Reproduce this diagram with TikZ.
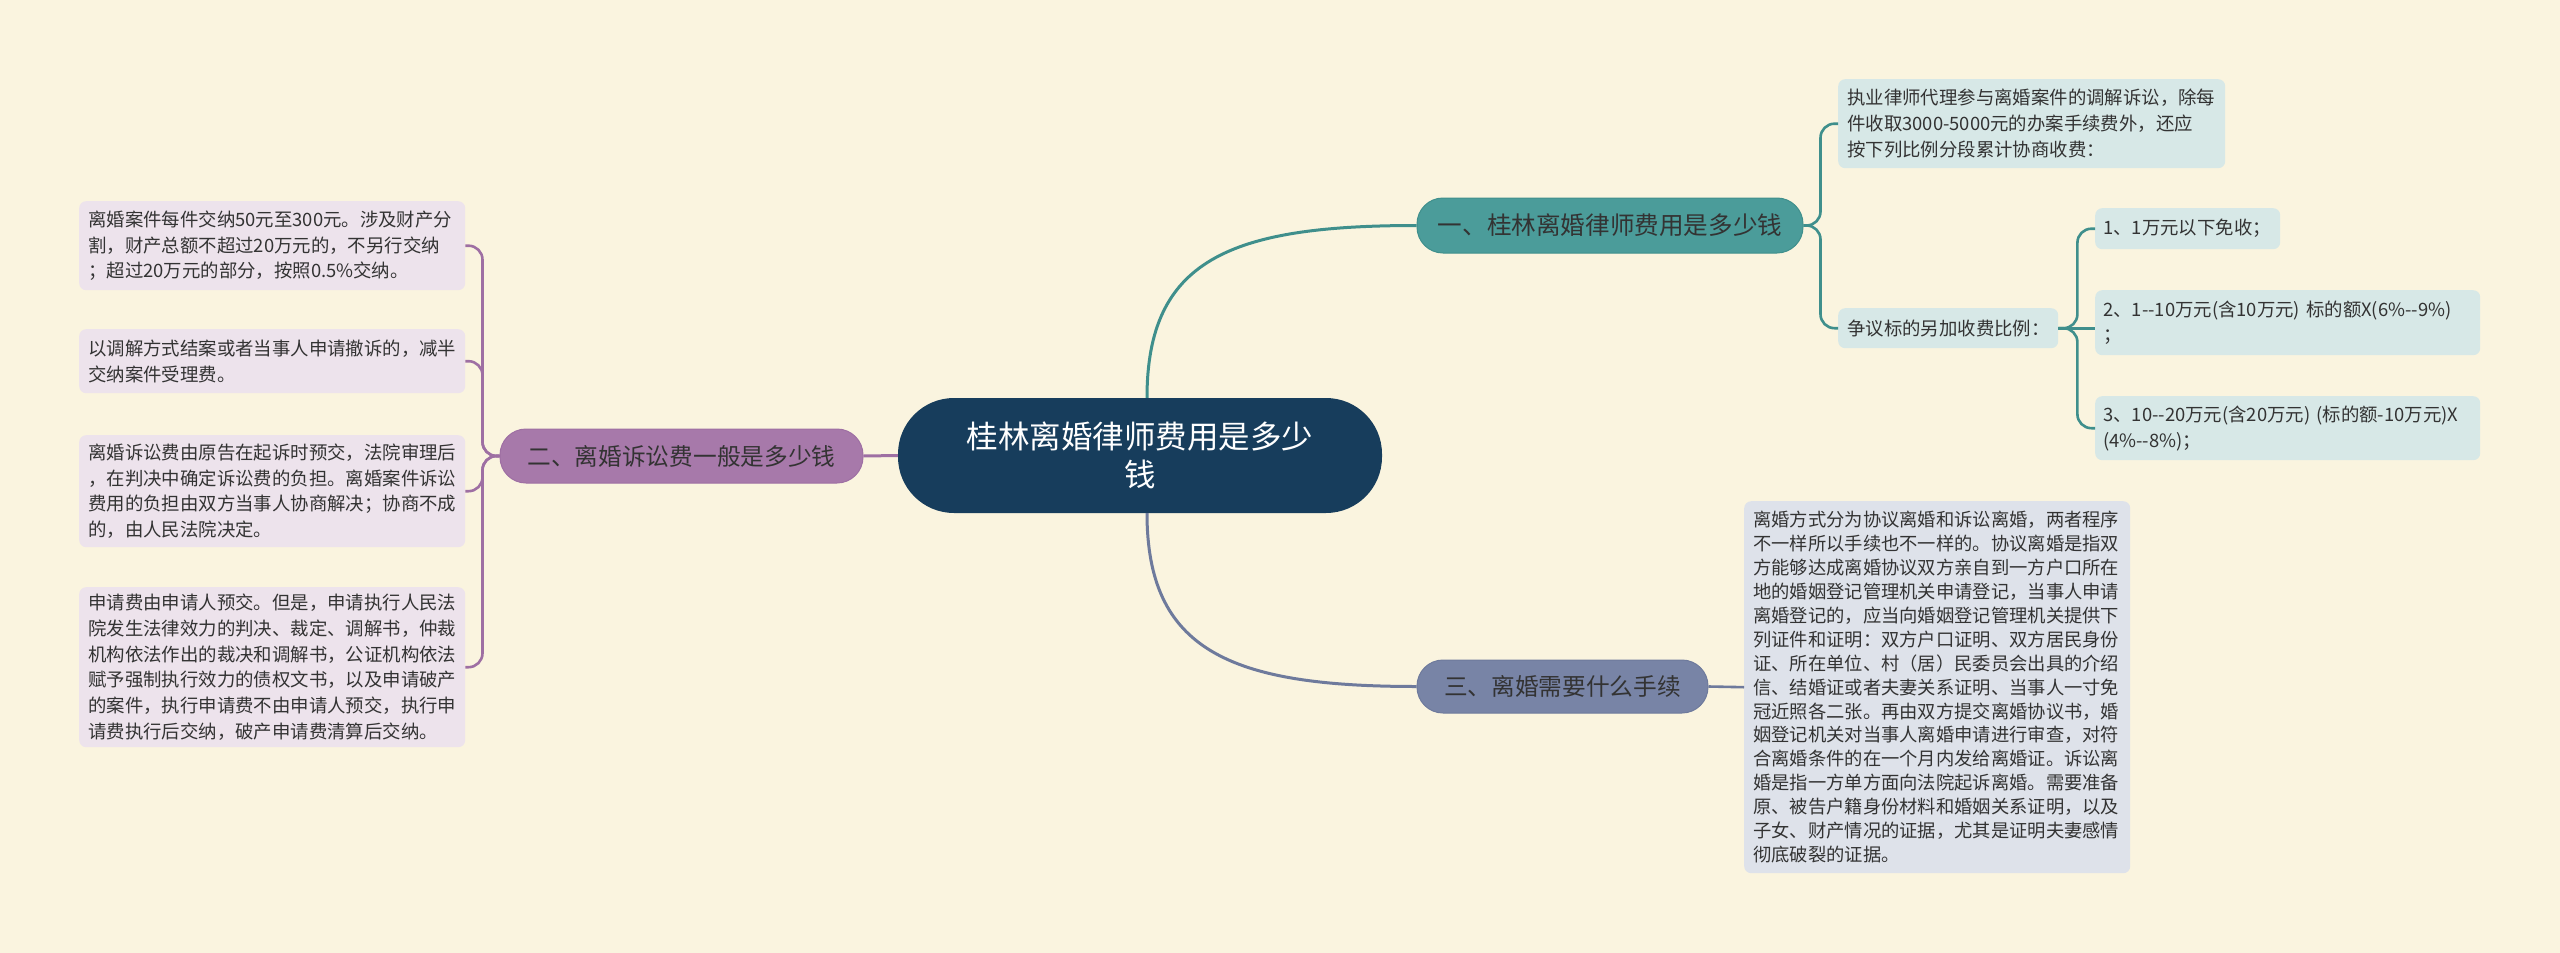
\documentclass[tikz,border=0pt]{standalone}
\usepackage{fontspec}
\setmainfont{Noto Sans CJK SC}
\usetikzlibrary{calc}
\definecolor{bg}{HTML}{FAF4DF}
\definecolor{centerc}{HTML}{173D5C}
\definecolor{tealf}{HTML}{4B9C9A}
\definecolor{teall}{HTML}{3F8F8C}
\definecolor{tealleaf}{HTML}{D7E8E7}
\definecolor{purf}{HTML}{A779AA}
\definecolor{purl}{HTML}{9E6FA3}
\definecolor{purleaf}{HTML}{EDE3EC}
\definecolor{slatef}{HTML}{7884A6}
\definecolor{slatel}{HTML}{6E7A9C}
\definecolor{slateleaf}{HTML}{DEE2EA}
\definecolor{txt}{HTML}{333333}
\def\dd{-\kern0pt-}
\tikzset{
  leafbase/.style={anchor=north west, align=left, inner xsep=9pt, inner ysep=5pt,
    rounded corners=7pt, text=txt, font=\fontsize{18.4}{25.8}\selectfont},
  leafT/.style={leafbase, fill=tealleaf},
  leafP/.style={leafbase, fill=purleaf},
  leafS/.style={leafbase, fill=slateleaf, font=\fontsize{18.3}{23.9}\selectfont},
  branchbase/.style={inner sep=0pt, rounded corners=26pt, text=txt,
    font=\fontsize{24.6}{30}\selectfont},
  branchT/.style={branchbase, fill=tealf, draw=teall, line width=1pt},
  branchP/.style={branchbase, fill=purf, draw=purl, line width=1pt, font=\fontsize{23.7}{28}\selectfont},
  branchS/.style={branchbase, fill=slatef, draw=slatel, line width=1pt, font=\fontsize{23.7}{28}\selectfont},
  centernode/.style={inner sep=0pt, rounded corners=56pt, fill=centerc, text=white,
    align=center, font=\fontsize{31.5}{38}\selectfont},
  lineT/.style={draw=teall, line width=2.6pt},
  lineP/.style={draw=purl, line width=2.6pt},
  lineS/.style={draw=slatel, line width=2.6pt},
  brk/.style={rounded corners=14pt}
}
\begin{document}
\begin{tikzpicture}[x=1pt,y=-1pt]
\useasboundingbox (0,0) rectangle (2560,953);
\fill[bg] (0,0) rectangle (2560,953);

% central
\node[centernode, minimum width=484pt, minimum height=115pt] (c) at (1140,455.5)
  {桂林离婚律师费用是多少\\钱};

% branches
\node[branchT, minimum width=386pt, minimum height=55pt] (b1) at (1610,225.5) {一、桂林离婚律师费用是多少钱};
\node[branchP, minimum width=363pt, minimum height=54pt] (b2) at (681.5,456) {二、离婚诉讼费一般是多少钱};
\node[branchS, minimum width=291pt, minimum height=53pt] (b3) at (1562.5,686.5) {三、离婚需要什么手续};

% branch 1 leaves
\node[leafT, text width=369pt, minimum height=89pt] (l1a) at (1838,79)
  {执业律师代理参与离婚案件的调解诉讼，除每\\件收取3000-5000元的办案手续费外，还应\\按下列比例分段累计协商收费：};
\node[leafT, text width=202pt, minimum height=40pt] (l1b) at (1838,308)
  {争议标的另加收费比例：};
\node[leafT, inner xsep=8pt, text width=169pt, minimum height=41pt] (s1) at (2095,208)
  {1、1万元以下免收；};
\node[leafT, inner xsep=8pt, text width=369pt, minimum height=65pt] (s2) at (2095,290)
  {2、1\dd10万元(含10万元) 标的额X(6\%\dd9\%)\\；};
\node[leafT, inner xsep=8pt, text width=369pt, minimum height=64pt] (s3) at (2095,396)
  {3、10\dd20万元(含20万元) (标的额-10万元)X\\(4\%\dd8\%)；};

% branch 2 leaves
\node[leafP, text width=368pt, minimum height=89pt] (l2a) at (79,201)
  {离婚案件每件交纳50元至300元。涉及财产分\\割，财产总额不超过20万元的，不另行交纳\\；超过20万元的部分，按照0.5\%交纳。};
\node[leafP, text width=368pt, minimum height=64pt] (l2b) at (79,329)
  {以调解方式结案或者当事人申请撤诉的，减半\\交纳案件受理费。};
\node[leafP, text width=368pt, minimum height=112pt] (l2c) at (79,435)
  {离婚诉讼费由原告在起诉时预交，法院审理后\\，在判决中确定诉讼费的负担。离婚案件诉讼\\费用的负担由双方当事人协商解决；协商不成\\的，由人民法院决定。};
\node[leafP, text width=368pt, minimum height=160pt] (l2d) at (79,587)
  {申请费由申请人预交。但是，申请执行人民法\\院发生法律效力的判决、裁定、调解书，仲裁\\机构依法作出的裁决和调解书，公证机构依法\\赋予强制执行效力的债权文书，以及申请破产\\的案件，执行申请费不由申请人预交，执行申\\请费执行后交纳，破产申请费清算后交纳。};

% branch 3 leaf
\node[leafS, text width=368pt, minimum height=372pt] (l3) at (1744,501)
  {离婚方式分为协议离婚和诉讼离婚，两者程序\\不一样所以手续也不一样的。协议离婚是指双\\方能够达成离婚协议双方亲自到一方户口所在\\地的婚姻登记管理机关申请登记，当事人申请\\离婚登记的，应当向婚姻登记管理机关提供下\\列证件和证明：双方户口证明、双方居民身份\\证、所在单位、村（居）民委员会出具的介绍\\信、结婚证或者夫妻关系证明、当事人一寸免\\冠近照各二张。再由双方提交离婚协议书，婚\\姻登记机关对当事人离婚申请进行审查，对符\\合离婚条件的在一个月内发给离婚证。诉讼离\\婚是指一方单方面向法院起诉离婚。需要准备\\原、被告户籍身份材料和婚姻关系证明，以及\\子女、财产情况的证据，尤其是证明夫妻感情\\彻底破裂的证据。};

% connectors from center
\draw[lineT, line width=3pt] ([xshift=7pt]c.north) .. controls +(0,-138) and +(-187,0) .. (b1.west);
\draw[lineP, line width=3pt] (c.west) -- (b2.east);
\draw[lineS, line width=3pt] ([xshift=7pt]c.south) .. controls +(0,137) and +(-187,0) .. (b3.west);

% branch 1 brackets
\draw[lineT, brk] (b1.east) -- ++(17,0) |- (l1a.west);
\draw[lineT, brk] (b1.east) -- ++(17,0) |- (l1b.west);
\draw[lineT, brk] (l1b.east) -- ++(19,0) |- (s1.west);
\draw[lineT, brk] (l1b.east) -- ++(19,0) |- (s3.west);
\draw[lineT] (l1b.east) -- (l1b.east -| s2.west);

% branch 2 brackets
\draw[lineP, brk] (b2.west) -- ++(-17,0) |- (l2a.east);
\draw[lineP, brk] (b2.west) -- ++(-17,0) |- (l2b.east);
\draw[lineP, brk] (b2.west) -- ++(-17,0) |- (l2c.east);
\draw[lineP, brk] (b2.west) -- ++(-17,0) |- (l2d.east);

% branch 3
\draw[lineS] (b3.east) -- (l3.west);
\end{tikzpicture}
\end{document}
